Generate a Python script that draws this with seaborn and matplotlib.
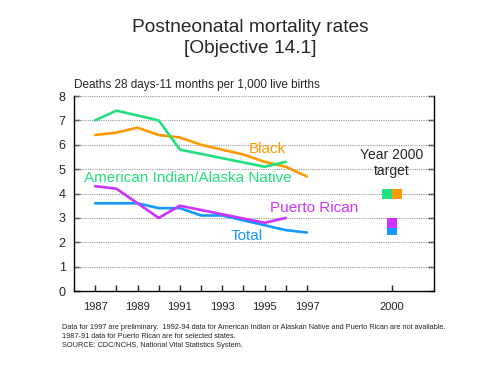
import numpy as np
import pandas as pd
import matplotlib
matplotlib.use("Agg")
import matplotlib.pyplot as plt
import seaborn as sns

# data
years = [1987, 1988, 1989, 1990, 1991, 1992, 1993, 1994, 1995, 1996, 1997]
total = [3.6, 3.6, 3.6, 3.4, 3.4, 3.1, 3.1, 2.9, 2.7, 2.5, 2.4]
black = [6.4, 6.5, 6.7, 6.4, 6.3, 6.0, 5.8, 5.6, 5.3, 5.1, 4.7]
am_indian = [7.0, 7.4, 7.2, 7.0, 5.8, np.nan, np.nan, np.nan, 5.1, 5.3, np.nan]
puerto_rican = [4.3, 4.2, 3.6, 3.0, 3.5, np.nan, np.nan, np.nan, 2.8, 3.0, np.nan]

groups = ["Total", "Black", "American Indian/Alaska Native", "Puerto Rican"]
targets = {"American Indian/Alaska Native": 4.0, "Black": 4.0, "Puerto Rican": 2.8, "Total": 2.5}
tick_years = [1987, 1989, 1991, 1993, 1995, 1997, 2000]

colors = {"Total": "#1199ff", "Black": "#ff9900",
          "American Indian/Alaska Native": "#22e07e", "Puerto Rican": "#cc33ff"}

# 2000 sits further right on the category axis (gap after 1997)
def xpos(y):
    return 14 if y == 2000 else y - 1987

df = pd.DataFrame({"year": years * 4,
                   "rate": total + black + am_indian + puerto_rican,
                   "group": sum([[g] * len(years) for g in groups], [])})
df["x"] = df["year"].apply(xpos)
df = df.dropna()

sns.set_style("white")
plt.rcParams["font.family"] = ["Liberation Sans", "DejaVu Sans"]

fig = plt.figure(figsize=(5, 3.78), dpi=100)
ax = fig.add_axes([0.148, 0.230, 0.720, 0.516])

sns.lineplot(data=df, x="x", y="rate", hue="group", hue_order=groups,
             palette=colors, linewidth=1.9, legend=False, ax=ax, zorder=3)

# year 2000 targets as squares
off = 0.23
tx = {"American Indian/Alaska Native": xpos(2000) - off, "Black": xpos(2000) + off,
      "Total": xpos(2000), "Puerto Rican": xpos(2000)}
for g in ["American Indian/Alaska Native", "Black", "Total", "Puerto Rican"]:
    ax.scatter([tx[g]], [targets[g]], marker="s", s=52, color=colors[g],
               linewidths=0, zorder=4)

ax.set_xlim(-1, 16)
ax.set_ylim(0, 8)
ax.set_xticks([xpos(y) for y in tick_years])
ax.set_xticklabels([str(y) for y in tick_years], fontsize=8)
ax.set_xticks([xpos(y) for y in years], minor=True)
ax.set_yticks(range(0, 9))
ax.set_yticklabels([str(i) for i in range(0, 9)], fontsize=9)
ax.tick_params(axis="x", which="both", direction="in", length=4, width=1,
               bottom=True, pad=8)
ax.tick_params(axis="y", direction="in", length=4, width=1, left=True,
               right=True, pad=6)
for v in range(1, 9):
    ax.axhline(v, color="#999999", linestyle=(0, (1, 1)), linewidth=0.8, zorder=1)
for s in ["left", "right", "bottom"]:
    ax.spines[s].set_color("black")
    ax.spines[s].set_linewidth(1)
ax.spines["top"].set_visible(False)
ax.set_xlabel("")
ax.set_ylabel("")

# series labels
ax.text(7.25, 5.65, "Black", color=colors["Black"], fontsize=11)
ax.text(-0.55, 4.47, "American Indian/Alaska Native",
        color=colors["American Indian/Alaska Native"], fontsize=11)
ax.text(8.25, 3.25, "Puerto Rican", color=colors["Puerto Rican"], fontsize=11)
ax.text(6.4, 2.1, "Total", color=colors["Total"], fontsize=11)
ax.text(xpos(2000), 4.65, "Year 2000\ntarget", ha="center", va="bottom",
        fontsize=10, linespacing=1.15)

fig.text(0.148, 0.768, "Deaths 28 days-11 months per 1,000 live births", fontsize=8.5)
fig.text(0.5, 0.915, "Postneonatal mortality rates", ha="center", va="baseline", fontsize=13.8)
fig.text(0.5, 0.860, "[Objective 14.1]", ha="center", va="baseline", fontsize=13.8)

foot = ("Data for 1997 are preliminary.  1992-94 data for American Indian or Alaskan Native and Puerto Rican are not available.\n"
        "1987-91 data for Puerto Rican are for selected states.\n"
        "SOURCE: CDC/NCHS, National Vital Statistics System.")
fig.text(0.124, 0.143, foot, fontsize=5.35, va="top", linespacing=1.4)

fig.savefig("out.png", dpi=100)
